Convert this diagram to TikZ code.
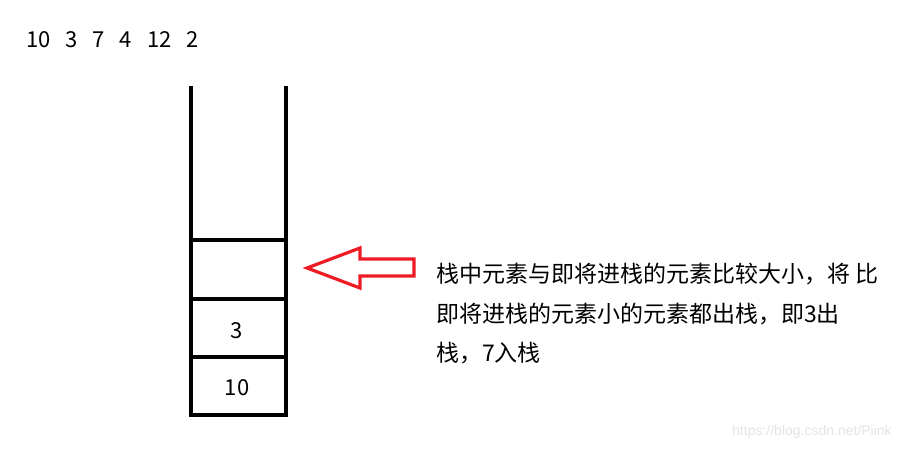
\documentclass[tikz,border=0pt]{standalone}
\usepackage{fontspec}
\setmainfont{Noto Sans CJK SC}
\definecolor{arrowred}{RGB}{237,28,36}
\definecolor{wmgray}{RGB}{228,228,228}
\begin{document}
\begin{tikzpicture}[x=1pt,y=-1pt,
  txt/.style={inner sep=0pt,outer sep=0pt,font=\fontsize{22}{26}\selectfont},
  cjk/.style={inner sep=0pt,outer sep=0pt,font=\fontsize{23}{27}\selectfont},
  wall/.style={line width=4.5pt,black,line join=miter},
  redarrow/.style={line width=3.2pt,arrowred,line join=miter}]
\useasboundingbox (0,0) rectangle (921,449);
% sequence
\node[txt,anchor=base west] (seq) at (26,48) {10\hspace{15pt}3\hspace{15pt}7\hspace{15pt}4\hspace{15pt}12\hspace{15pt}2};
% stack
\draw[wall] (191,86) -- (191,415) -- (286,415) -- (286,86);
\draw[wall] (191,240) -- (286,240);
\draw[wall] (191,299) -- (286,299);
\draw[wall] (191,357) -- (286,357);
\node[txt,anchor=base] (s3) at (237,338) {3};
\node[txt,anchor=base] (s10) at (237,395) {10};
% arrow
\draw[redarrow] (307,268) -- (360,248) -- (360,259) -- (414,259) -- (414,276) -- (360,276) -- (360,288) -- cycle;
% text
\node[cjk,anchor=base west] (l1) at (436,282) {栈中元素与即将进栈的元素比较大小，将 比};
\node[cjk,anchor=base west] (l2) at (436,322) {即将进栈的元素小的元素都出栈，即3出};
\node[cjk,anchor=base west] (l3) at (436,361) {栈，7入栈};
% watermark
\node[inner sep=0pt,anchor=base west,text=wmgray,font=\fontspec{Liberation Sans}\fontsize{14}{16}\selectfont] (wm) at (732,435) {https://blog.csdn.net/Piink};
\end{tikzpicture}
\end{document}
